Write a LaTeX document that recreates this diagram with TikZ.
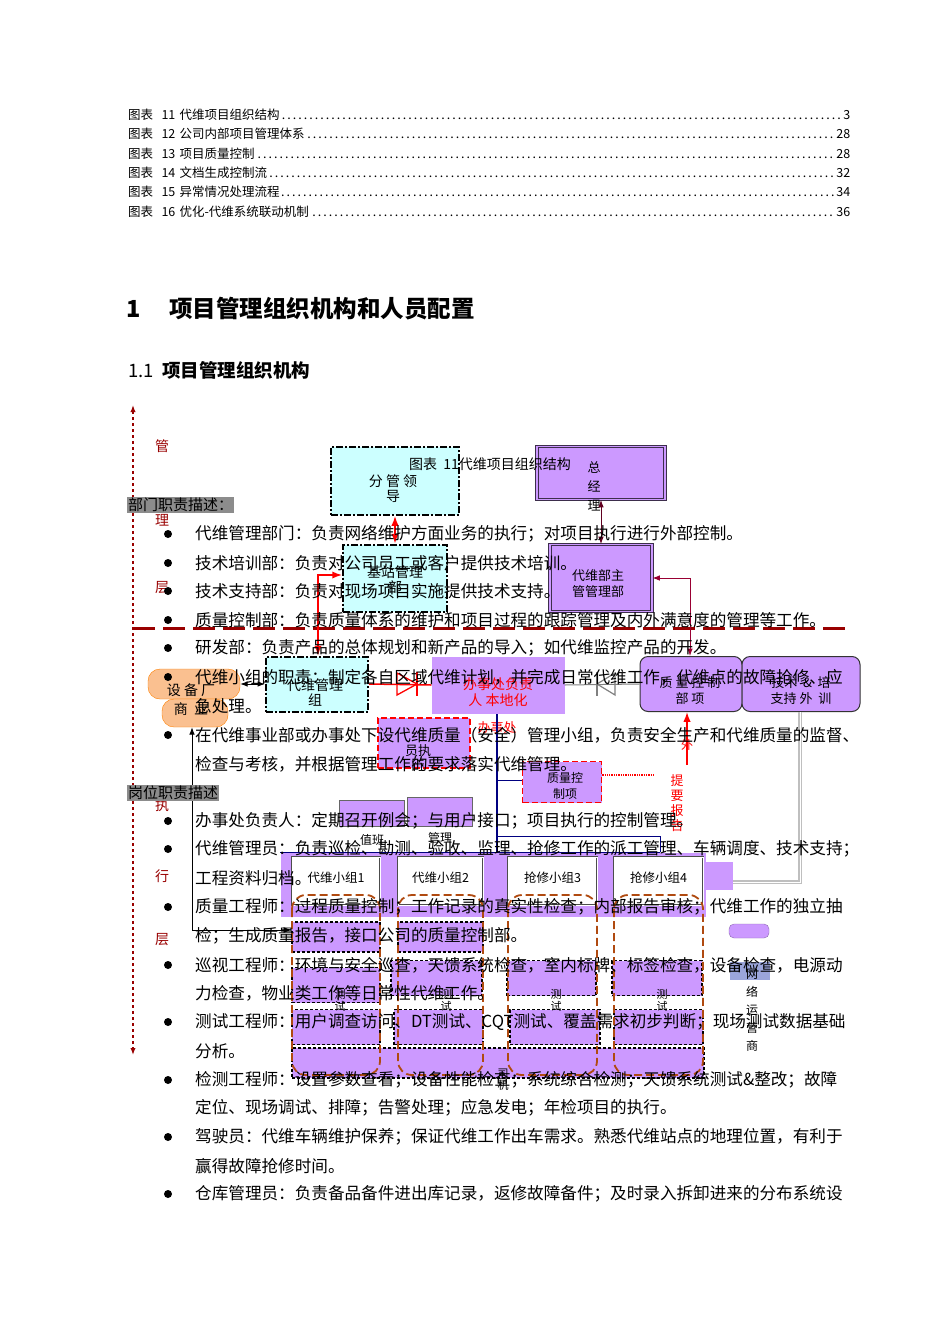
\documentclass[tikz,border=0pt]{standalone}
\usepackage{fontspec}
\setmainfont{Noto Sans CJK SC}
\usetikzlibrary{arrows.meta}
\definecolor{pur}{HTML}{CC99FF}
\definecolor{cyanb}{HTML}{CCFFFF}
\definecolor{dred}{HTML}{990000}
\definecolor{brn}{HTML}{B04A10}
\definecolor{orgf}{HTML}{FAC090}
\tikzset{
 txt/.style={anchor=west,inner sep=0pt,font=\fontsize{16.6}{17}\selectfont},
 toc/.style={anchor=west,inner sep=0pt,text width=722pt,align=left,font=\fontsize{12.5}{13}\selectfont},
 cbox/.style={draw=black,fill=cyanb,line width=2pt,dash pattern=on 7pt off 2pt on 2pt off 2pt},
 pbox/.style={draw=black!70!pur,fill=pur,double=pur,double distance=1.5pt,line width=0.8pt},
 rbox/.style={draw=red,fill=pur,line width=1.5pt,dash pattern=on 6pt off 3pt},
 wbox/.style={draw=black!70,fill=white,double=white,line width=0.8pt},
 prow/.style={draw=black,fill=pur,line width=1.2pt,densely dashed},
 bcol/.style={draw=brn,line width=1.8pt,dash pattern=on 8pt off 4pt,rounded corners=14pt},
 lbl/.style={inner sep=0pt,font=\fontsize{12}{13}\selectfont,align=center},
 rlbl/.style={inner sep=0pt,font=\fontsize{14}{15}\selectfont,text=dred},
 gray/.style={fill=black!45,inner sep=1pt,anchor=west,font=\fontsize{15}{16}\selectfont},
 bul/.style={circle,fill=black,inner sep=0pt,minimum size=8pt}
}
\begin{document}
\begin{tikzpicture}[x=1pt,y=-1pt]
\useasboundingbox (0,0) rectangle (950,1344);
\fill[white] (0,0) rectangle (950,1344);
% TOC
\node[toc] (t1) at (128,115) {图表 \ 11 代维项目组织结构\dotfill 3};
\node[toc] (t2) at (128,134) {图表 \ 12 公司内部项目管理体系\dotfill 28};
\node[toc] (t3) at (128,154) {图表 \ 13 项目质量控制\dotfill 28};
\node[toc] (t4) at (128,173) {图表 \ 14 文档生成控制流\dotfill 32};
\node[toc] (t5) at (128,192) {图表 \ 15 异常情况处理流程\dotfill 34};
\node[toc] (t6) at (128,212) {图表 \ 16 优化-代维系统联动机制\dotfill 36};
\node[anchor=west,inner sep=0pt,font=\fontsize{23.5}{24}\selectfont\bfseries] (h1) at (126,309) {1 \quad 项目管理组织机构和人员配置};
\node[anchor=west,inner sep=0pt,font=\fontsize{18.5}{19}\selectfont] (h2) at (128,370) {1.1 \ \textbf{项目管理组织机构}};
% left arrow and layer labels
\coordinate (la) at (133,405); \coordinate (lb) at (133,1055);
\draw[dred,line width=1.3pt,dashed,{Latex[length=7pt]}-{Latex[length=7pt]}] (la) -- (lb);
\foreach \t/\yy in {管/446,理/520,层/588,执/805,行/876,层/940}{\node[rlbl] at (162,\yy) {\t};}
\coordinate (ha) at (133,628); \coordinate (hb) at (850,628);
\draw[dred,line width=3pt,dash pattern=on 22pt off 8pt] (ha) -- (hb);
% top boxes
\node[cbox,minimum width=128pt,minimum height=68pt] (fg) at (395,481) {};
\node[lbl,font=\fontsize{14}{15}\selectfont] at (393,489) {分 管 领\\导};
\node[pbox,minimum width=128pt,minimum height=53pt] (zjl) at (601,473) {};
\node[lbl,font=\fontsize{13}{14}\selectfont] at (594,486) {总\\[5pt]经\\[5pt]理};
\node[inner sep=0pt,font=\fontsize{14}{15}\selectfont] (cap) at (490,464) {图表 \ 11代维项目组织结构};
\node[cbox,minimum width=104pt,minimum height=67pt] (jz) at (395,578) {};
\node[lbl,font=\fontsize{14}{15}\selectfont] at (395,580) {基站管理\\部};
\node[pbox,minimum width=102pt,minimum height=67pt] (dwb) at (601,578) {};
\node[lbl,font=\fontsize{13}{16}\selectfont] at (598,584) {代维部主\\管管理部};
\draw[red,line width=1.5pt,{Latex}-{Latex}] (fg.south) -- (jz.north);
\draw[black!50!purple,line width=1pt,{Latex}-{Latex}] (zjl.south) -- (dwb.north);
% middle row
\node[draw=orange,fill=orgf,rounded corners=12pt,minimum width=92pt,minimum height=30pt] (sb) at (194,684) {};
\node[draw=orange,fill=orgf,rounded corners=12pt,minimum width=66pt,minimum height=28pt] (sb2) at (195,713) {};
\node[lbl,font=\fontsize{14}{15}\selectfont] at (191,700) {设 备 厂\\[4pt]商 \ 业};
\node[cbox,minimum width=102pt,minimum height=55pt] (dwg) at (317,684) {};
\node[lbl,font=\fontsize{14}{15}\selectfont] at (315,692) {代维管理\\组};
\node[fill=pur,minimum width=133pt,minimum height=57pt,inner sep=0pt] (bsc) at (498,685) {};
\node[lbl,text=red,font=\fontsize{14}{16}\selectfont] at (498,692) {办事处负责\\人 本地化};
\node[lbl,text=red,font=\fontsize{13}{14}\selectfont] at (497,728) {办事处};
\node[draw=black!80,fill=pur,rounded corners=8pt,line width=1pt,minimum width=102pt,minimum height=55pt] (zlk) at (691,684) {};
\node[lbl,font=\fontsize{13}{16}\selectfont] at (690,691) {质 量 控 制\\部 项};
\node[draw=black!80,fill=pur,rounded corners=8pt,line width=1pt,minimum width=118pt,minimum height=55pt] (jsp) at (801,684) {};
\node[lbl,font=\fontsize{13}{16}\selectfont] at (801,691) {技术 \ \& \ 培\\支持 外 \ 训};
\draw[black,line width=1pt,{Latex}-{Latex}] (sb.east) -- (dwg.west);
\draw[red,line width=1.5pt] (dwg.east) -- (bsc.west);
\draw[red,line width=1.3pt] (397,673) -- (397,695) -- (417,684) -- cycle;
\draw[red,line width=1.3pt] (417,672) -- (417,696);
\draw[black!50,line width=1pt] (bsc.east) -- (zlk.west);
\draw[black!50,line width=1.2pt] (615,673) -- (615,695) -- (597,684) -- cycle;
\draw[black!50,line width=1.2pt] (597,672) -- (597,696);
\coordinate (rj) at (318,640);
\draw[red,line width=1.5pt,{Latex}-{Latex}] (dwg.north -| rj) -- (318,575) -- (jz.west |- 0,575);
\draw[purple!80!black,line width=1pt,-{Latex}] (690,578) -- (dwb.east |- 0,578);
\draw[purple!80!black,line width=1pt,-{Latex}] (690,578) -- (zlk.north -| 690,0);
\coordinate (wq) at (687,765);
\draw[red,line width=1.5pt,-{Latex}] (wq) -- (zlk.south -| wq);
\node[rlbl,text=red,font=\fontsize{12}{13}\selectfont] at (687,745) {外};
\draw[black!25,line width=2pt,double=white] (800,712) -- (800,882) -- (706,882);
% quality boxes
\node[rbox,minimum width=92pt,minimum height=50pt] (dwy) at (424,743) {};
\node[lbl,font=\fontsize{13}{15}\selectfont] at (418,758) {员执\\行};
\node[lbl,font=\fontsize{13}{14}\selectfont] at (416,805) {管};
\node[rbox,minimum width=79pt,minimum height=41pt] (zlx) at (562,782) {};
\node[lbl,font=\fontsize{12}{16}\selectfont] at (565,786) {质量控\\制项};
\coordinate (tb) at (655,775);
\draw[red,line width=1.3pt,densely dotted] (zlx.east |- tb) -- (tb);
\node[lbl,text=red,font=\fontsize{13}{15}\selectfont] at (677,803) {提\\要\\报\\告};
% blue lines
\coordinate (bt) at (497,714);
\draw[blue!50!black,line width=1.5pt] (bt) -- (497,852);
\draw[blue!50!black,line width=1pt] (497,780) -- (zlx.west |- 0,780);
\draw[blue!50!black,line width=1pt] (497,836) -- (660,836) -- (660,852);
\draw[blue!50!black,line width=1pt] (280,852) -- (660,852);
\node[draw=black!60,fill=pur,minimum width=65pt,minimum height=26pt] (zb) at (372,813) {};
\node[draw=black!60,fill=pur,minimum width=65pt,minimum height=29pt] (glb) at (440,812) {};
\node[lbl,font=\fontsize{12}{13}\selectfont] at (372,840) {值班};
\node[lbl,font=\fontsize{12}{13}\selectfont] at (440,838) {管理};
% purple band
\fill[pur] (281,853) rectangle (706,917);
\fill[pur] (706,862) rectangle (733,890);
\foreach \n/\xa/\xb/\t in {g1/292/380/代维小组1,g2/398/483/代维小组2,g3/508/597/抢修小组3,g4/614/703/抢修小组4}{
  \node[wbox,minimum width=\xb pt-\xa pt,minimum height=48pt] (\n) at ({(\xa+\xb)/2},881) {};
  \node[lbl,font=\fontsize{12.5}{14}\selectfont] at ({(\xa+\xb)/2},878) {\t};
}
% rows
\foreach \xa/\xb in {292/380,398/483}{\node[prow,minimum width=\xb pt-\xa pt,minimum height=30pt] at ({(\xa+\xb)/2},937) {};}
\foreach \xa/\xb/\yy in {292/380/985,391/482/978,507/596/978,612/702/978}{\node[prow,minimum width=\xb pt-\xa pt,minimum height=35pt] at ({(\xa+\xb)/2},\yy) {};}
\foreach \xa/\xb in {292/380,394/483,510/600,614/703}{\node[prow,minimum width=\xb pt-\xa pt,minimum height=35pt] at ({(\xa+\xb)/2},1027) {};}
\node[prow,minimum width=412pt,minimum height=30pt] (sj) at (498,1063) {};
\node[lbl,font=\fontsize{11}{12}\selectfont] at (503,1080) {司\\机};
\foreach \xa/\xb in {292/380,398/483,508/597,614/703}{\draw[bcol] (\xa,895) rectangle (\xb,1075);}
\foreach \x in {298,404,514,620}{\node[lbl,font=\fontsize{11}{12}\selectfont] at (\x+42,1000) {测\\试};}
% black connector
\coordinate (bk) at (192,735);
\draw[black,line width=1pt,-{Latex[length=8pt]}] (bk) -- (192,930) -- (g1.west |- 0,930);
\draw[black,line width=1pt,-{Latex}] (bk) -- (sb2.south -| bk);
% right side small
\node[draw=pur!70!black,fill=pur,rounded corners=5pt,minimum width=40pt,minimum height=14pt] (sr) at (749,931) {};
\node[fill=cyan!30!blue!40,minimum width=40pt,minimum height=18pt] (nw) at (750,971) {};
\node[lbl,font=\fontsize{12}{18}\selectfont] at (752,1010) {网\\络\\运\\营\\商};
% gray labels
\node[gray] (bm) at (127,505) {部门职责描述：};
\node[gray] (gw) at (127,793) {岗位职责描述};
% body text
\foreach \yy/\t in {
534/代维管理部门：负责网络维护方面业务的执行；对项目执行进行外部控制。,
563/技术培训部：负责对公司员工或客户提供技术培训。,
591/技术支持部：负责对现场项目实施提供技术支持。,
620/质量控制部：负责质量体系的维护和项目过程的跟踪管理及内外满意度的管理等工作。,
648/研发部：负责产品的总体规划和新产品的导入；如代维监控产品的开发。,
677/代维小组的职责：制定各自区域代维计划，并完成日常代维工作，代维点的故障抢修、应,
735/在代维事业部或办事处下设代维质量（安全）管理小组，负责安全生产和代维质量的监督、,
821/办事处负责人：定期召开例会；与用户接口；项目执行的控制管理。,
849/代维管理员：负责巡检、勘测、验收、监理、抢修工作的派工管理、车辆调度、技术支持；,
907/质量工程师：过程质量控制；工作记录的真实性检查；内部报告审核；代维工作的独立抽,
965/巡视工程师：环境与安全巡查，天馈系统检查，室内标牌、标签检查，设备检查，电源动,
1022/测试工程师：用户调查访问、DT测试、CQT测试、覆盖需求初步判断；现场测试数据基础,
1080/检测工程师：设置参数查看；设备性能检查；系统综合检测；天馈系统测试\&整改；故障,
1137/驾驶员：代维车辆维护保养；保证代维工作出车需求。熟悉代维站点的地理位置，有利于,
1194/仓库管理员：负责备品备件进出库记录，返修故障备件；及时录入拆卸进来的分布系统设}{
 \node[bul] at (168,\yy) {};
 \node[txt] at (195,\yy) {\t};
}
\foreach \yy/\t in {706/急处理。,764/检查与考核，并根据管理工作的要求落实代维管理。,878/工程资料归档。,936/检；生成质量报告，接口公司的质量控制部。,993/力检查，物业类工作等日常性代维工作。,1051/分析。,1108/定位、现场调试、排障；告警处理；应急发电；年检项目的执行。,1166/赢得故障抢修时间。}{
 \node[txt] at (195,\yy) {\t};
}
\end{tikzpicture}
\end{document}
